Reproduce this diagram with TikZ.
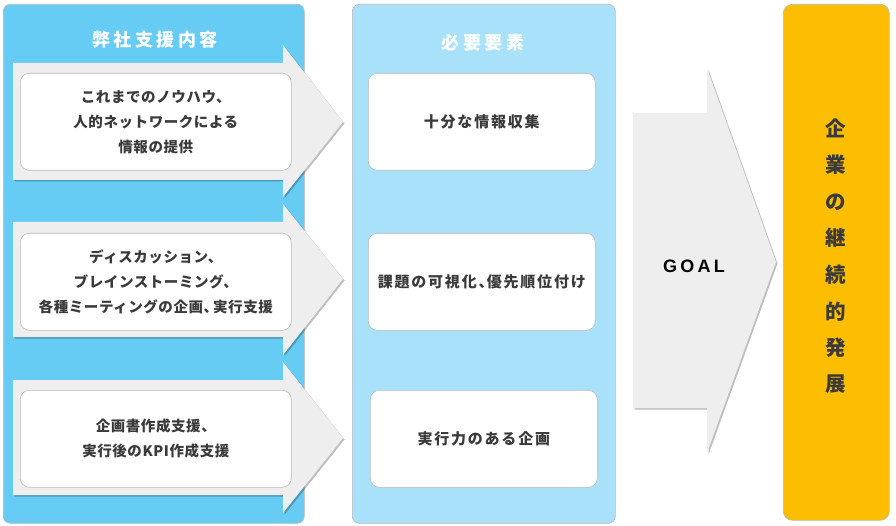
\documentclass[tikz,border=0pt]{standalone}
\usepackage{fontspec}
\setmainfont{Noto Sans CJK JP}
\newfontfamily\boxfont{Noto Sans CJK JP}[LetterSpace=4]
\newfontfamily\midfont{Noto Sans CJK JP}[LetterSpace=12]
\newfontfamily\titlefont{Noto Sans CJK JP}[LetterSpace=20]
\newfontfamily\goalfont{Liberation Sans}[LetterSpace=18]
\usetikzlibrary{shadows}
\definecolor{leftblue}{HTML}{66CCF3}
\definecolor{midblue}{HTML}{A8E1F9}
\definecolor{goalorange}{HTML}{FDBD00}
\definecolor{arrowgray}{HTML}{EEEEEE}
\definecolor{txtdark}{HTML}{3A3A3A}
\definecolor{edgegray}{HTML}{BBBBBB}
\tikzset{
  panel/.style={draw=edgegray, line width=0.6pt, rounded corners=7pt},
  whitebox/.style={draw=edgegray, line width=0.6pt, fill=white, rounded corners=9pt},
  bigarrow/.style={fill=arrowgray, drop shadow={shadow xshift=1.5pt, shadow yshift=-1.5pt, opacity=0.25, fill=black}},
  boxtext/.style={font=\boxfont\bfseries\fontsize{14.5}{25}\selectfont, text=txtdark, align=center},
  midtext/.style={font=\midfont\bfseries\fontsize{15}{20}\selectfont, text=txtdark, align=center},
  titletext/.style={font=\titlefont\bfseries\fontsize{18}{20}\selectfont, text=white},
  vtext/.style={font=\bfseries\fontsize{20.5}{24}\selectfont, text=txtdark}
}
\begin{document}
\begin{tikzpicture}[x=1pt,y=-1pt]
\useasboundingbox (0,0) rectangle (896,526);
% panels
\node[panel, fill=leftblue, minimum width=301pt, minimum height=519pt, anchor=north west, inner sep=0pt] (leftpanel) at (3,4) {};
\node[panel, fill=midblue, minimum width=263pt, minimum height=519pt, anchor=north west, inner sep=0pt] (midpanel) at (352,4) {};
\node[panel, fill=goalorange, minimum width=106pt, minimum height=516pt, anchor=north west, inner sep=0pt, rounded corners=9pt] (goalpanel) at (783,4) {};
\node[titletext] (lefttitle) at (155,40) {弊社支援内容};
\node[titletext] (midtitle) at (483,43) {必要要素};
% arrows in left panel
\path[bigarrow] (13,63) -- (283,63) -- (283,45) -- (343,122) -- (283,197) -- (283,180) -- (13,180) -- cycle;
\path[bigarrow] (13,222) -- (283,222) -- (283,204) -- (343,279) -- (283,355) -- (283,337) -- (13,337) -- cycle;
\path[bigarrow] (13,380) -- (283,380) -- (283,362) -- (343,438) -- (283,513) -- (283,495) -- (13,495) -- cycle;
% white boxes left
\node[whitebox, minimum width=271pt, minimum height=97pt, anchor=north west, inner sep=0pt] (lbox1) at (20,73) {};
\node[boxtext] at (lbox1.center) {これまでのノウハウ、\\人的ネットワークによる\\情報の提供};
\node[whitebox, minimum width=271pt, minimum height=97pt, anchor=north west, inner sep=0pt] (lbox2) at (20,233) {};
\node[boxtext] at (lbox2.center) {ディスカッション、\\ブレインストーミング、\\各種ミーティングの企画、\kern-0.35em 実行支援};
\node[whitebox, minimum width=271pt, minimum height=97pt, anchor=north west, inner sep=0pt] (lbox3) at (20,390) {};
\node[boxtext] at (lbox3.center) {企画書作成支援、\\実行後のKPI作成支援};
% white boxes middle
\node[whitebox, minimum width=227pt, minimum height=97pt, anchor=north west, inner sep=0pt] (mbox1) at (368,73) {};
\node[midtext] at (mbox1.center) {十分な情報収集};
\node[whitebox, minimum width=227pt, minimum height=97pt, anchor=north west, inner sep=0pt] (mbox2) at (368,233) {};
\node[midtext] at (mbox2.center) {課題の可視化、\kern-0.45em 優先順位付け};
\node[whitebox, minimum width=227pt, minimum height=97pt, anchor=north west, inner sep=0pt] (mbox3) at (370,390) {};
\node[midtext] at (mbox3.center) {実行力のある企画};
% goal arrow
\path[bigarrow] (633,113) -- (707,113) -- (707,68) -- (776,262) -- (707,453) -- (707,408) -- (633,408) -- cycle;
\node[font=\goalfont\bfseries\fontsize{18}{20}\selectfont, text=black] (goal) at (694,266) {GOAL};
% vertical text
\node[vtext] (v1) at (836,128) {企};
\node[vtext] (v2) at (836,165) {業};
\node[vtext] (v3) at (836,202) {の};
\node[vtext] (v4) at (836,238) {継};
\node[vtext] (v5) at (836,275) {続};
\node[vtext] (v6) at (836,312) {的};
\node[vtext] (v7) at (836,348) {発};
\node[vtext] (v8) at (836,384) {展};
\end{tikzpicture}
\end{document}
